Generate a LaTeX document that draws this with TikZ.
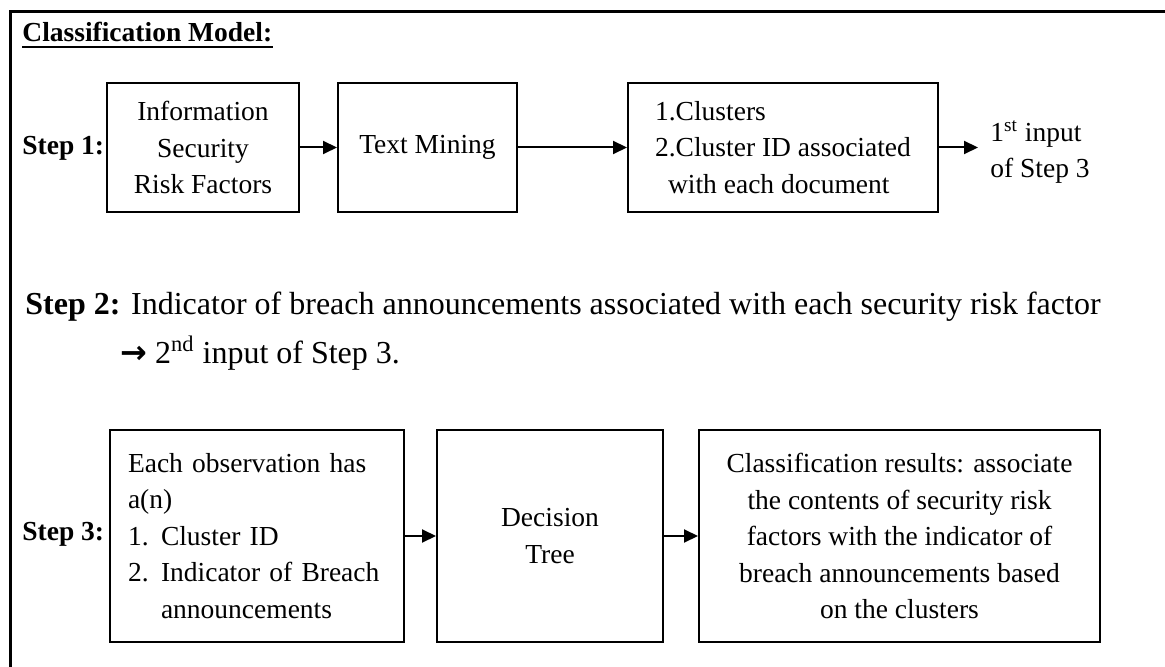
\documentclass[tikz,border=0pt]{standalone}
\usepackage{fontspec}
\setmainfont{Liberation Serif}
\newfontfamily\symfont{DejaVu Sans}
\usepackage{tikz}
\usetikzlibrary{arrows.meta}

\newcommand{\bodysize}{\fontsize{13.75pt}{18.25pt}\selectfont}
\newcommand{\linesize}{\fontsize{16pt}{20pt}\selectfont}
\newcommand{\numitem}[1]{\makebox[16.5pt][l]{#1}}

\tikzset{
    stepbox/.style={draw, line width=1pt, inner sep=0pt, align=center,
                    minimum height=64.5pt},
    steplabel/.style={anchor=base west, inner sep=0pt, font=\bodysize\bfseries},
    flow/.style={-{Triangle[length=7pt,width=6.5pt]}, line width=1pt},
}

\begin{document}
\begin{tikzpicture}[x=0.5pt, y=-0.5pt, font=\bodysize]
    \useasboundingbox (0,0) rectangle (1165,667);

    % frame
    \draw[line width=1.5pt] (10,667) -- (10,12) -- (1165,12);

    \node[anchor=base west, inner sep=0pt, font=\bodysize\bfseries] (title)
        at (22,42) {Classification Model:};
    \draw[line width=1.3pt] ([yshift=-2.6pt]title.base west) -- ([yshift=-2.6pt]title.base east);

    % step 1
    \node[steplabel] (lab1) at (22,155) {Step 1:};
    \node[stepbox, minimum width=96pt] (risk) at (203,147.5)
        {Information\\Security\\Risk Factors};
    \node[stepbox, minimum width=89.5pt] (mining) at (427.5,147.5) {Text Mining};
    \node[stepbox, align=left, minimum width=155pt] (clusters) at (783,147.5)
        {1.Clusters\\2.Cluster ID associated\\\hspace*{6.5pt}with each document};
    \node[anchor=west, align=left, inner xsep=6pt, inner ysep=0pt] (firstin) at (978,152)
        {1\textsuperscript{st} input\\of Step 3};

    \draw[flow] (risk) -- (mining);
    \draw[flow] (mining) -- (clusters);
    \draw[flow] (clusters.east) -- (clusters.east -| firstin.west);

    % step 2
    \node[anchor=base west, inner sep=0pt, font=\linesize] (indic) at (25,315)
        {\textbf{Step 2:} Indicator of breach announcements associated with each security risk factor};
    \node[anchor=base west, inner sep=0pt, font=\linesize] (secondin) at (120,364)
        {{\symfont\bfseries →} 2\textsuperscript{nd} input of Step 3.};

    % step 3
    \node[steplabel] (lab3) at (22,540) {Step 3:};
    \node[stepbox, align=left, text width=129pt, inner xsep=9pt, minimum height=106pt] (obs)
        at (257,536)
        {Each observation has\\a(n)\\\numitem{1.}Cluster ID\\\numitem{2.}Indicator of Breach\\
         \hspace*{16.5pt}announcements};
    \node[stepbox, minimum width=113pt, minimum height=106pt] (tree) at (550,536)
        {Decision\\Tree};
    \node[stepbox, minimum width=200.5pt, minimum height=106pt] (result) at (899.5,536)
        {Classification results: associate\\the contents of security risk\\factors with the indicator of\\
         breach announcements based\\on the clusters};

    \draw[flow] (obs) -- (tree);
    \draw[flow] (tree) -- (result);
\end{tikzpicture}
\end{document}
